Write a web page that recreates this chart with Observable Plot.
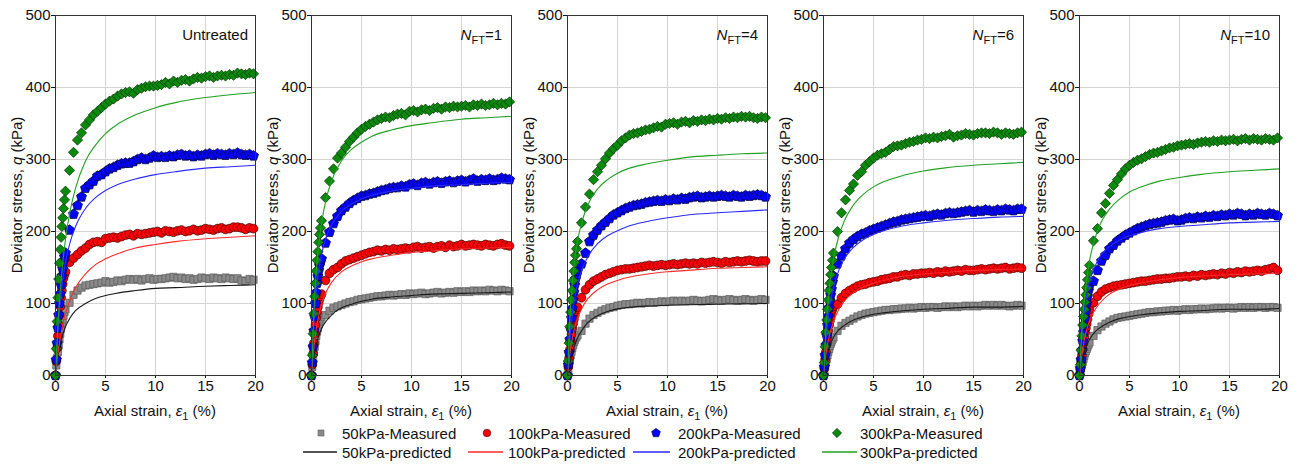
<!DOCTYPE html>
<html><head><meta charset="utf-8">
<script src="https://cdn.jsdelivr.net/npm/d3@7"></script>
<script src="https://cdn.jsdelivr.net/npm/@observablehq/plot@0.6"></script>
<style>
body{margin:0;background:#fff;font-family:"Liberation Sans",Arial,sans-serif;}
#row{display:flex;width:1300px;height:425px;}
#legend{display:block;}
</style></head><body>
<div id="row"></div>
<svg id="legend" width="1300" height="40"></svg>
<script>
const panelLabels = ["Untreated", "1", "4", "6", "10"];
const seriesNames = ["50kPa", "100kPa", "200kPa", "300kPa"];
const xTicks = [0, 5, 10, 15, 20];
const yTicks = [0, 100, 200, 300, 400, 500];
const xGrid = [5, 10, 15];
const yGrid = [100, 200, 300, 400];

const strainMeasured = [0,0.08,0.16,0.24,0.32,0.4,0.48,0.56,0.64,0.72,0.8,0.9,1.0,
 1.4,1.8,2.2,2.6,3.0,3.4,3.8,4.2,4.6,5.0,
 5.4,5.8,6.2,6.6,7.0,7.4,7.8,8.2,8.6,9.0,
 9.4,9.8,10.2,10.6,11.0,11.4,11.8,12.2,12.6,13.0,
 13.4,13.8,14.2,14.6,15.0,15.4,15.8,16.2,16.6,17.0,
 17.4,17.8,18.2,18.6,19.0,19.4,19.8];
const strainPredicted = [0,0.25,0.5,0.75,1,1.5,2,3,4,5,6,8,10,12,15,17.5,20];

const measured50 = [
[0,14,24,33,42,50,58,65,72,78,83,88,92,
 101,112,118,122,125,126,127,128,129,131,
 129,130,132,131,133,134,133,134,132,134,
 135,133,134,134,135,136,137,135,136,134,
 135,133,134,136,135,134,136,135,134,136,
 135,134,135,132,131,134,133],
[0,12,22,32,40,48,55,61,66,71,75,78,81,
 84,90,94,96,98,100,102,103,105,106,
 107,108,109,110,110,111,112,111,112,113,
 112,114,113,114,115,113,114,115,116,114,
 115,116,115,117,116,117,116,118,117,118,
 117,119,118,117,119,118,117],
[0,8,15,22,28,33,38,42,46,49,52,54,56,
 62,72,79,84,87,90,92,94,95,97,
 98,99,99,100,101,100,101,102,101,102,
 103,102,103,104,103,104,103,104,105,104,
 103,104,105,106,105,104,105,106,105,104,
 105,106,105,104,105,106,105],
[0,6,12,18,23,28,33,37,41,44,47,50,53,
 62,69,73,76,79,82,84,86,87,88,
 89,90,91,91,92,92,93,93,94,93,
 94,95,94,95,95,94,95,96,95,96,
 95,96,97,96,97,96,97,98,97,98,
 97,98,97,96,97,98,97],
[0,5,10,15,19,23,27,31,34,37,40,43,46,
 55,63,68,72,75,78,80,81,82,83,
 84,85,86,87,88,88,89,89,90,90,
 91,90,91,92,91,92,92,93,92,93,
 93,94,93,94,94,93,94,95,94,95,
 94,95,95,94,95,95,94]];

const measured100 = [
[0,20,38,55,70,84,96,108,118,127,135,140,144,
 157,163,168,173,177,182,185,186,185,190,
 191,192,191,193,195,196,194,197,196,197,
 198,199,200,198,201,200,199,201,202,200,
 201,203,201,202,204,203,202,204,205,203,
 204,206,206,205,203,205,204],
[0,15,30,45,58,70,80,88,95,101,106,110,113,
 132,142,147,150,155,159,161,163,165,167,
 169,171,172,174,173,175,174,176,175,176,
 177,176,178,179,177,178,179,177,179,180,
 178,181,179,180,182,180,181,182,181,180,
 182,181,180,182,183,181,180],
[0,12,24,36,47,57,65,72,78,84,89,92,95,
 108,119,126,131,134,137,140,142,144,146,
 147,148,148,149,150,151,152,153,152,153,
 154,153,154,155,154,155,156,155,156,155,
 157,156,157,158,157,156,158,157,158,159,
 158,159,160,159,158,159,159],
[0,10,22,33,44,53,62,70,76,82,88,92,96,
 99,108,114,118,121,124,126,127,129,130,
 131,133,134,135,137,137,139,140,139,141,
 141,142,142,143,142,144,143,145,144,145,
 146,145,147,146,146,147,148,147,148,149,
 148,149,150,148,149,150,149],
[0,8,18,28,37,45,53,60,66,72,78,85,92,
 101,110,116,120,122,124,125,126,127,128,
 129,130,131,131,132,133,134,134,135,135,
 136,137,137,138,137,139,138,140,139,140,
 141,140,142,141,143,142,144,143,145,144,
 145,146,145,147,148,150,146]];

const measured200 = [
[0,22,45,66,84,100,113,126,138,148,158,165,170,
 202,224,236,248,260,265,270,277,279,283,
 287,289,292,294,295,295,297,300,302,300,
 302,305,303,304,303,305,304,306,307,305,
 306,304,306,305,307,308,306,308,307,306,
 308,307,309,307,306,307,305],
[0,18,40,62,82,100,115,128,138,146,153,158,162,
 184,199,211,221,229,234,239,243,246,249,
 250,252,253,255,257,258,260,261,261,263,
 262,265,266,264,267,268,266,268,269,267,
 269,270,268,270,271,269,271,273,270,272,
 271,273,271,272,274,273,272],
[0,15,32,50,65,80,93,105,116,126,134,140,145,
 155,170,186,195,202,208,213,218,223,226,
 229,232,234,236,237,238,240,241,242,243,
 242,244,243,245,244,246,245,247,248,249,
 247,248,249,248,249,250,249,248,250,249,
 248,250,249,250,251,250,248],
[0,12,28,42,56,70,82,94,104,112,120,130,138,
 155,166,176,184,189,193,196,198,201,203,
 205,207,209,211,213,214,216,217,218,219,
 220,221,222,221,223,224,223,225,226,225,
 226,227,228,229,227,229,228,230,229,228,
 230,229,231,230,229,231,231],
[0,10,22,35,48,60,70,80,90,100,110,118,125,
 131,146,159,167,176,181,187,191,195,198,
 201,204,206,208,210,211,212,213,215,216,
 217,215,216,218,219,218,220,219,221,220,
 222,221,223,222,224,223,225,224,222,224,
 223,225,224,223,225,224,222]];

const measured300 = [
[0,37,75,108,134,156,175,192,207,219,232,244,256,
 285,310,327,337,348,355,362,367,372,377,
 381,384,388,391,393,394,392,397,399,401,
 402,402,403,404,407,405,409,407,410,411,
 409,412,414,413,415,416,414,416,417,416,
 418,417,420,419,418,420,419],
[0,28,58,86,110,128,145,160,172,185,196,205,215,
 247,270,287,302,309,317,325,331,337,342,
 346,349,352,355,357,359,358,361,363,364,
 362,367,368,366,369,370,368,371,372,370,
 373,372,374,373,374,375,373,376,375,377,
 375,376,378,376,378,377,380],
[0,20,45,68,88,105,118,132,145,157,167,176,186,
 212,234,252,272,283,292,301,309,315,320,
 326,330,334,336,337,339,341,342,344,346,
 345,349,350,351,349,352,353,351,354,353,
 355,354,356,355,357,356,358,357,359,358,
 360,359,360,358,357,359,358],
[0,18,40,60,77,92,105,118,128,140,150,160,170,
 200,226,244,257,266,278,283,292,297,302,
 306,308,310,314,318,319,320,322,324,325,
 327,328,330,329,331,330,332,333,335,331,
 333,334,336,335,334,336,337,337,336,338,
 337,335,337,336,335,337,338],
[0,15,35,55,70,82,92,102,112,122,133,143,153,
 187,204,226,239,253,264,272,280,287,292,
 296,299,301,304,307,309,310,312,314,316,
 317,319,320,321,322,321,323,324,325,324,
 326,325,327,326,327,328,326,328,329,327,
 329,328,327,329,328,327,330]];

const predicted50 = [
[0,28,46,58,68,81,90,100,107,111,114,118,121,122,124,125,126],
[0,27,44,56,65,76,84,94,99,103,106,109,111,113,114,115,116],
[0,18,32,43,52,64,73,83,89,92.5,94.5,96.5,97.5,98.3,99,99.5,100],
[0,22,36,46,53,63,69,77,82,85,87,90,92,93,95,95,96],
[0,20,34,43,50,60,66,74,79,82,84,87,89,90,92,92,93]];
const predicted100 = [
[0,31,54,72,86,107,122,141,154,162,168,177,182,186,190,192,194],
[0,41,67,85,99,117,129,144,152,158,162,167,171,173,176,177,178],
[0,32,53,68,79,95,106,119,127,132,136,141,144,146,149,150,151],
[0,30,50,64,75,91,102,115,123,128,132,138,141,143,146,147,148],
[0,30,51,65,76,90,100,113,120,125,128,133,136,138,140,141,142]];
const predicted200 = [
[0,64,105,135,157,187,207,232,247,257,264,273,279,283,288,290,292],
[0,77,121,149,168,193,209,228,238,245,250,256,260,263,265,267,268],
[0,52,88,110,127,149,164,183,194,201,207,214,219,223,226,228,230],
[0,51,83,106,122,145,160,178,189,196,201,208,212,215,218,220,221],
[0,58,92,114,130,150,164,179,188,194,198,204,207,209,212,213,214]];
const predicted300 = [
[0,72,122,160,189,231,260,298,320,336,347,362,372,379,386,390,393],
[0,92,148,185,211,247,270,298,314,324,332,341,347,351,356,358,360],
[0,83,132,165,187,216,236,259,272,281,287,294,299,303,306,308,309],
[0,66,109,140,162,192,212,237,252,262,269,278,284,288,292,294,296],
[0,66,108,137,159,188,208,231,245,255,261,270,275,279,283,285,287]];

// styling
const FONT = '"Liberation Sans", Arial, sans-serif';
const pentagon = {
  draw(ctx, size) {
    const R = Math.sqrt(size / 2.378);
    for (let k = 0; k < 5; ++k) {
      const a = -Math.PI / 2 + k * 2 * Math.PI / 5;
      const px = R * Math.cos(a), py = R * Math.sin(a);
      if (k === 0) ctx.moveTo(px, py); else ctx.lineTo(px, py);
    }
    ctx.closePath();
  }
};
const measuredSets = [measured50, measured100, measured200, measured300];
const predictedSets = [predicted50, predicted100, predicted200, predicted300];
const symbols = ["square", "circle", pentagon, "diamond2"];
const fills = ["#8a8a8a", "#ff0000", "#0000ff", "#0a8a0a"];
const outlines = ["#5a5a5a", "#3a0000", "#000030", "#0a2a0a"];
const radii = [4.1, 4.4, 4.6, 4.6];
const lineColors = ["#1a1a1a", "#ff2a2a", "#2a2aff", "#22a022"];

const row = document.getElementById("row");
panelLabels.forEach((label, i) => {
  const marks = [
    Plot.ruleX(xGrid, {stroke: "#d4d4d4", strokeWidth: 1}),
    Plot.ruleY(yGrid, {stroke: "#d4d4d4", strokeWidth: 1})
  ];
  measuredSets.forEach((set, s) => {
    const vals = set[i];
    const data = strainMeasured.map((e, j) => ({x: e, y: vals[j]})).filter(d => d.y != null);
    marks.push(Plot.dot(data, {x: "x", y: "y", symbol: symbols[s], r: radii[s],
      fill: fills[s], stroke: outlines[s], strokeWidth: 0.7}));
  });
  predictedSets.forEach((set, s) => {
    const vals = set[i];
    const data = strainPredicted.map((e, j) => ({x: e, y: vals[j]}));
    marks.push(Plot.line(data, {x: "x", y: "y", stroke: lineColors[s], strokeWidth: 1.1, curve: "monotone-x"}));
  });
  marks.push(Plot.frame({stroke: "#333", strokeWidth: 1}));

  const svg = Plot.plot({
    width: 256, height: 425,
    marginLeft: 55, marginRight: 1, marginTop: 15, marginBottom: 50,
    style: {fontSize: "15px", fontFamily: FONT, background: "transparent", overflow: "visible", color: "#111"},
    x: {domain: [0, 20], ticks: xTicks, tickSize: 3, tickPadding: 2, label: null, tickFormat: d => String(d)},
    y: {domain: [0, 500], ticks: yTicks, tickSize: 4, tickPadding: 1, label: null, tickFormat: d => String(d)},
    marks
  });
  svg.style.flex = "0 0 256px";
  const g = d3.select(svg);
  // y-axis title
  const yt = g.append("text")
    .attr("transform", "translate(22,195) rotate(-90)")
    .attr("text-anchor", "middle")
    .attr("font-size", 15).attr("font-family", FONT).attr("fill", "#111");
  yt.append("tspan").text("Deviator stress, ");
  yt.append("tspan").attr("font-style", "italic").text("q");
  yt.append("tspan").text(" (kPa)");
  // x-axis title
  const xt = g.append("text")
    .attr("x", 155).attr("y", 416)
    .attr("text-anchor", "middle")
    .attr("font-size", 15).attr("font-family", FONT).attr("fill", "#111");
  xt.append("tspan").text("Axial strain, ");
  xt.append("tspan").attr("font-style", "italic").text("ε");
  xt.append("tspan").attr("font-size", 11).attr("dy", 4).text("1");
  xt.append("tspan").attr("dy", -4).text(" (%)");
  // panel label
  const pl = g.append("text")
    .attr("x", i === 0 ? 248 : 246).attr("y", 40)
    .attr("text-anchor", "end")
    .attr("font-size", 15).attr("font-family", FONT).attr("fill", "#111");
  if (i === 0) {
    pl.text(label);
  } else {
    pl.append("tspan").attr("font-style", "italic").text("N");
    pl.append("tspan").attr("font-size", 11).attr("dy", 4).text("FT");
    pl.append("tspan").attr("dy", -4).text("=" + label);
  }
  row.appendChild(svg);
});

// legend
const leg = d3.select("#legend");
const markerX = [321, 487, 656, 837];
const textX = [342, 508, 678, 860];
const lineX = [[303, 337], [468, 503], [633, 670], [822, 857]];
const legSizes = [36, 45, 50, 55];
seriesNames.forEach((name, s) => {
  const sym = typeof symbols[s] === "string"
    ? ({square: d3.symbolSquare, circle: d3.symbolCircle, diamond2: d3.symbolDiamond2})[symbols[s]]
    : symbols[s];
  leg.append("path")
    .attr("d", d3.symbol(sym, legSizes[s])())
    .attr("transform", `translate(${markerX[s]},8)`)
    .attr("fill", fills[s]).attr("stroke", outlines[s]).attr("stroke-width", 0.6);
  leg.append("text").attr("x", textX[s]).attr("y", 13.5)
    .attr("font-size", 15).attr("font-family", FONT).attr("fill", "#111")
    .text(name + "-Measured");
  leg.append("line")
    .attr("x1", lineX[s][0]).attr("x2", lineX[s][1]).attr("y1", 27).attr("y2", 27)
    .attr("stroke", lineColors[s]).attr("stroke-width", 1.3);
  leg.append("text").attr("x", textX[s]).attr("y", 32.5)
    .attr("font-size", 15).attr("font-family", FONT).attr("fill", "#111")
    .text(name + "-predicted");
});
</script></body></html>
